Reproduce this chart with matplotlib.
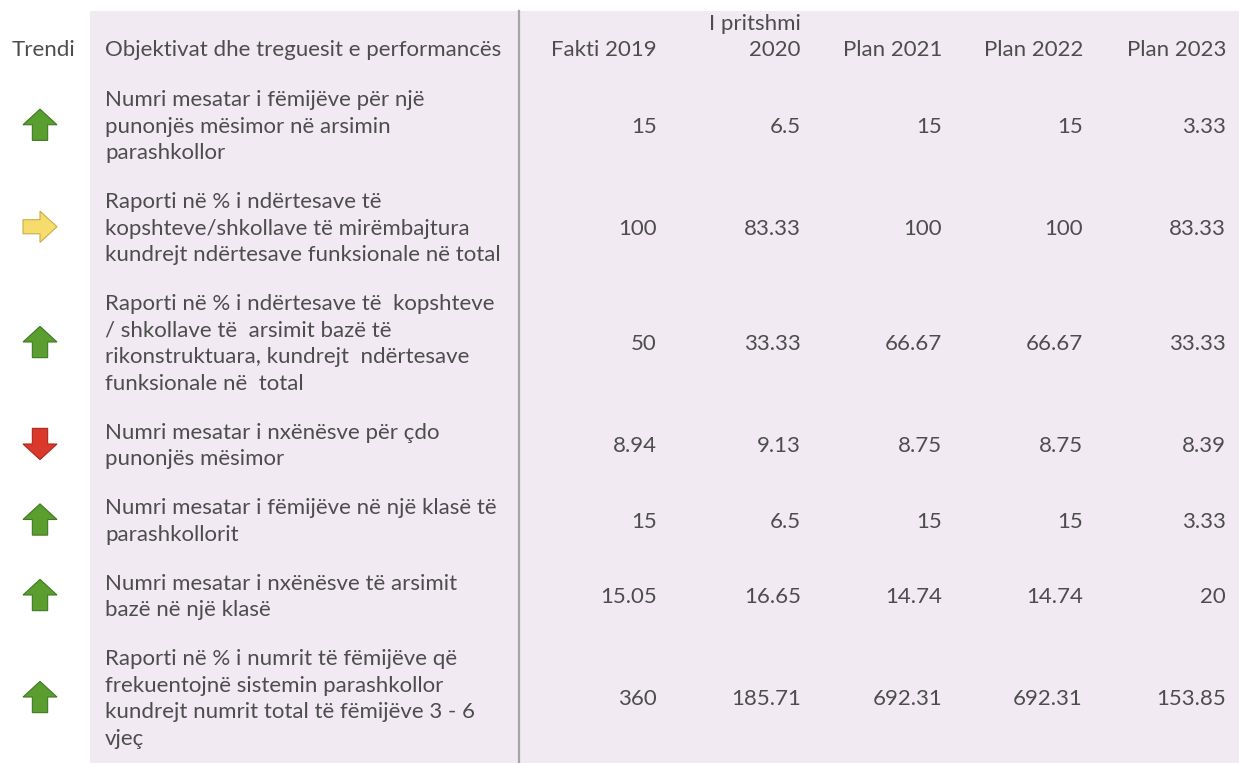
import matplotlib
matplotlib.use("Agg")
import matplotlib.pyplot as plt
from matplotlib.patches import Polygon, Rectangle

plt.rcParams['font.family'] = ['Lato', 'DejaVu Sans']

# table data
headers = ["Fakti 2019", "I pritshmi\n2020", "Plan 2021", "Plan 2022", "Plan 2023"]
indicators = [
    ["Numri mesatar i fëmijëve për një", "punonjës mësimor në arsimin", "parashkollor"],
    ["Raporti në % i ndërtesave të", "kopshteve/shkollave të mirëmbajtura",
     "kundrejt ndërtesave funksionale në total"],
    ["Raporti në % i ndërtesave të  kopshteve", "/ shkollave të  arsimit bazë të",
     "rikonstruktuara, kundrejt  ndërtesave", "funksionale në  total"],
    ["Numri mesatar i nxënësve për çdo", "punonjës mësimor"],
    ["Numri mesatar i fëmijëve në një klasë të", "parashkollorit"],
    ["Numri mesatar i nxënësve të arsimit", "bazë në një klasë"],
    ["Raporti në % i numrit të fëmijëve që", "frekuentojnë sistemin parashkollor",
     "kundrejt numrit total të fëmijëve 3 - 6", "vjeç"],
]
trend = ["up", "right", "up", "down", "up", "up", "up"]
values = [
    ["15", "6.5", "15", "15", "3.33"],
    ["100", "83.33", "100", "100", "83.33"],
    ["50", "33.33", "66.67", "66.67", "33.33"],
    ["8.94", "9.13", "8.75", "8.75", "8.39"],
    ["15", "6.5", "15", "15", "3.33"],
    ["15.05", "16.65", "14.74", "14.74", "20"],
    ["360", "185.71", "692.31", "692.31", "153.85"],
]

W, H = 1239, 763
fig = plt.figure(figsize=(W / 100, H / 100), dpi=100)
ax = fig.add_axes([0, 0, 1, 1])
ax.set_xlim(0, W)
ax.set_ylim(H, 0)
ax.axis("off")

txt = "#4d4d4d"
fs = 16
col_right = [657, 801, 942, 1083, 1226]
line_h = 26.5
gap = 22.5

# background panel and divider
ax.add_patch(Rectangle((90, 11), W - 90, H - 11, facecolor="#f1eaf2", edgecolor="none"))
ax.plot([519, 519], [11, H], color="#a6a6a6", lw=1.6)

# header
hy = 50
ax.text(12, hy, "Trendi", fontsize=fs, color=txt, va="center", ha="left")
ax.text(105, hy, "Objektivat dhe treguesit e performancës", fontsize=fs, color=txt,
        va="center", ha="left")
for x, h in zip(col_right, headers):
    parts = h.split("\n")
    for k, p in enumerate(parts):
        ax.text(x, hy - (len(parts) - 1 - k) * line_h, p, fontsize=fs, color=txt,
                va="center", ha="right")


def arrow(cx, cy, d):
    # up arrow shape, then rotated
    s = 17
    pts = [(0, -s), (s, 0), (0.45 * s, 0), (0.45 * s, s), (-0.45 * s, s), (-0.45 * s, 0), (-s, 0)]
    if d == "up":
        face, edge = "#5a9e2f", "#3f7a22"
        p = pts
    elif d == "down":
        face, edge = "#d9382a", "#a82a1f"
        p = [(x, -y) for x, y in pts]
    else:
        face, edge = "#f6dc6c", "#c9ae45"
        p = [(-y, x) for x, y in pts]
    p = [(cx + x, cy + 0.92 * y) for x, y in p]
    ax.add_patch(Polygon(p, closed=True, facecolor=face, edgecolor=edge, lw=0.8))


top = 87
for lines, d, vals in zip(indicators, trend, values):
    n = len(lines)
    cy = top + n * line_h / 2
    for k, ln in enumerate(lines):
        ax.text(105, top + (k + 0.5) * line_h, ln, fontsize=fs, color=txt,
                va="center", ha="left")
    for x, v in zip(col_right, vals):
        ax.text(x, cy, v, fontsize=fs, color=txt, va="center", ha="right")
    arrow(40, cy - 2, d)
    top += n * line_h + gap

fig.savefig("out.png", dpi=100)
